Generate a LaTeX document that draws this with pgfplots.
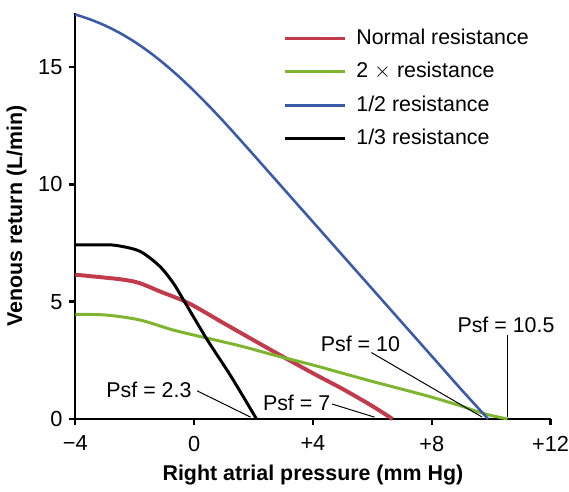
\documentclass[border=0pt]{standalone}
\usepackage{fontspec}
\setmainfont{Liberation Sans}
\usepackage{pgfplots}
\pgfplotsset{compat=1.18}
\definecolor{cred}{HTML}{C23B4B}
\definecolor{cgreen}{HTML}{7DB52F}
\definecolor{cblue}{HTML}{3A5BAA}
\begin{document}
\begin{tikzpicture}
\begin{axis}[
  scale only axis, width=240pt, height=205pt,
  xmin=-4, xmax=12, ymin=0, ymax=17.3,
  axis x line=bottom, axis y line=left,
  axis line style={-, line width=1.2pt},
  every tick/.style={black, line width=1.2pt},
  tick align=outside, major tick length=3pt,
  xtick={-4,0,4,8,12}, xticklabels={−4,0,+4,+8,+12},
  ytick={0,5,10,15},
  /pgf/number format/assume math mode=true,
  ticklabel style={font=\fontsize{11}{13}\selectfont},
  xticklabel style={yshift=-2pt, inner xsep=0pt},
  xlabel={\bfseries Right atrial pressure (mm Hg)},
  ylabel={\bfseries Venous return (L/min)},
  label style={font=\fontsize{10.8}{13}\selectfont},
  ylabel style={yshift=-1pt},
  legend style={at={(axis cs:3.0,16.8)}, anchor=north west, draw=none, fill=none,
    font=\fontsize{10.8}{13}\selectfont, row sep=3.5pt, inner sep=0pt},
  legend cell align=left,
  legend image code/.code={\draw[#1, line width=1.5pt] (0pt,0pt) -- (30.5pt,0pt); \path (33pt,0pt);},
  clip=false,
]
\addplot[cred, line width=2pt, smooth, tension=0.55] coordinates {
(-4,6.15) (-3.2,6.05) (-2.4,5.94) (-1.83,5.79) (-1.16,5.44) (-0.19,4.94) (1,4.08) (2.7,2.86) (4,1.95) (5,1.28) (6,0.55) (6.68,0)};
\addlegendentry{Normal resistance}
\addplot[cgreen, line width=1.5pt, smooth, tension=0.55] coordinates {
(-4,4.46) (-2.97,4.43) (-1.83,4.22) (-0.7,3.79) (0.49,3.43) (1.6,3.1) (2.7,2.72) (4,2.3) (5,1.95) (6,1.6) (7,1.27) (8,0.93) (9,0.55) (9.5,0.33) (10,0.15) (10.55,0)};
\addlegendentry{2 $\times$ resistance}
\addplot[cblue, line width=1.3pt, smooth, tension=0.5] coordinates {
(-4,17.24) (-3.5,17.03) (-3,16.77) (-2.5,16.45) (-2,16.07) (-1.5,15.63) (-1,15.13) (-0.5,14.58) (0,13.98) (0.5,13.34) (1,12.67) (1.5,11.97) (2,11.26) (2.5,10.545) (3,9.83) (4,8.40) (5,6.97) (6,5.54) (7,4.11) (8,2.68) (9,1.25) (9.9,0)};
\addlegendentry{1/2 resistance}
\addplot[black, line width=1.5pt, smooth, tension=0.5] coordinates {
(-4,7.42) (-3.2,7.42) (-2.64,7.4) (-1.83,7.15) (-1.16,6.51) (-0.7,5.79) (-0.36,5.08) (0.43,3.4) (1.25,1.8) (2.1,0)};
\addlegendentry{1/3 resistance}
\coordinate (topleft) at (axis cs:-4,17.3);
\begin{scope}[font=\fontsize{10.8}{13}\selectfont, line width=0.5pt]
\node at (axis cs:-1.52,1.22) {Psf = 2.3};
\draw (axis cs:0.1,1.2) -- (axis cs:1.9,0.08);
\node at (axis cs:3.45,0.7) {Psf = 7};
\draw (axis cs:4.64,0.64) -- (axis cs:6.07,0.08);
\node at (axis cs:5.6,3.22) {Psf = 10};
\draw (axis cs:5.97,2.83) -- (axis cs:9.7,0.08);
\node at (axis cs:10.5,4.03) {Psf = 10.5};
\draw (axis cs:10.56,3.6) -- (axis cs:10.56,0.08);
\end{scope}
\end{axis}
\path (topleft) ++(0,6.6pt);
\end{tikzpicture}
\end{document}
